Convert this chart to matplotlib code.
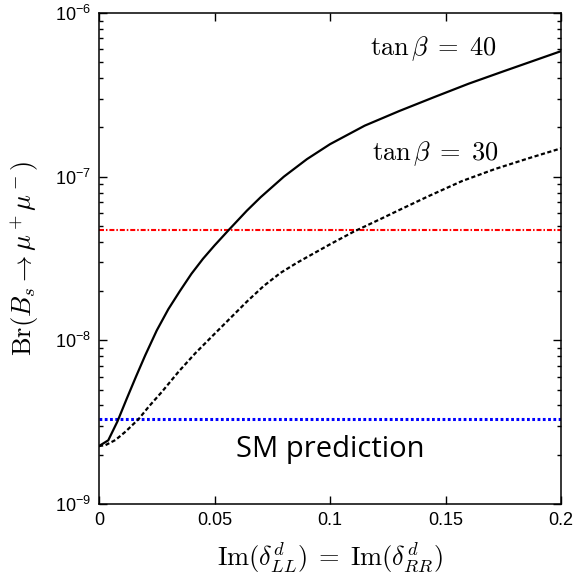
import matplotlib
matplotlib.use("Agg")
import matplotlib.pyplot as plt
from matplotlib.ticker import LogLocator, FixedLocator, NullFormatter

plt.rcParams['font.family'] = ['Liberation Sans', 'DejaVu Sans']
plt.rcParams['mathtext.fontset'] = 'cm'
plt.rcParams['lines.scale_dashes'] = False

# Data
x_tb40 = [0.0, 0.004, 0.008, 0.012, 0.016, 0.02, 0.025, 0.03, 0.035, 0.04, 0.045,
          0.05, 0.056, 0.064, 0.07, 0.08, 0.09, 0.1, 0.115, 0.13, 0.145, 0.16,
          0.175, 0.19, 0.2]
y_tb40 = [2.26e-9, 2.45e-9, 3.2e-9, 4.4e-9, 6.0e-9, 8.1e-9, 1.15e-8, 1.55e-8, 2.0e-8,
          2.55e-8, 3.15e-8, 3.8e-8, 4.7e-8, 6.2e-8, 7.5e-8, 1.0e-7, 1.28e-7, 1.58e-7,
          2.05e-7, 2.52e-7, 3.06e-7, 3.7e-7, 4.4e-7, 5.22e-7, 5.85e-7]

x_tb30 = [0.0, 0.0028, 0.0071, 0.0115, 0.0172, 0.0215, 0.0273, 0.0345, 0.0417,
          0.049, 0.0569, 0.0641, 0.0713, 0.0785, 0.0857, 0.1001, 0.1102, 0.1217,
          0.1304, 0.1426, 0.1571, 0.1715, 0.1859, 0.2]
y_tb30 = [2.26e-9, 2.29e-9, 2.46e-9, 2.77e-9, 3.31e-9, 3.93e-9, 4.86e-9, 6.45e-9, 8.35e-9,
          1.06e-8, 1.37e-8, 1.73e-8, 2.15e-8, 2.58e-8, 2.98e-8, 3.87e-8, 4.61e-8, 5.5e-8,
          6.3e-8, 7.6e-8, 9.4e-8, 1.115e-7, 1.295e-7, 1.49e-7]

exp_limit = 4.7e-8
sm_prediction = 3.3e-9

x_ticks = [0, 0.05, 0.1, 0.15, 0.2]
x_ticklabels = ['0', '0.05', '0.1', '0.15', '0.2']
y_ticks = [1e-9, 1e-8, 1e-7, 1e-6]
y_ticklabels = [r'$\mathregular{10^{-9}}$', r'$\mathregular{10^{-8}}$',
                r'$\mathregular{10^{-7}}$', r'$\mathregular{10^{-6}}$']

fig = plt.figure(figsize=(5.79, 5.79), dpi=100)
ax = fig.add_axes([0.171, 0.1295, 0.798, 0.848])

ax.axhline(exp_limit, color='#ff0000', lw=1.5, dashes=(3.6, 1.4, 1.1, 1.4))
ax.axhline(sm_prediction, color='#0000ff', lw=2.2, dashes=(2.0, 1.8))
ax.plot(x_tb40, y_tb40, color='black', lw=1.6, solid_joinstyle='round')
ax.plot(x_tb30, y_tb30, color='black', lw=1.6, dashes=(3.0, 1.8))

ax.set_yscale('log')
ax.set_xlim(0, 0.2)
ax.set_ylim(1e-9, 1e-6)

ax.xaxis.set_major_locator(FixedLocator(x_ticks))
ax.set_xticklabels(x_ticklabels)
ax.yaxis.set_major_locator(FixedLocator(y_ticks))
ax.set_yticklabels(y_ticklabels)
ax.yaxis.set_minor_locator(LogLocator(base=10, subs=range(2, 10)))
ax.yaxis.set_minor_formatter(NullFormatter())

ax.tick_params(which='both', direction='in', top=True, right=True, width=1.0, colors='black')
ax.tick_params(which='major', length=5.5, labelsize=13, pad=6)
ax.tick_params(which='minor', length=3)
for s in ax.spines.values():
    s.set_linewidth(1.1)

ax.set_xlabel(r'$\mathrm{Im}(\delta^d_{LL})\;=\;\mathrm{Im}(\delta^d_{RR})$', fontsize=19, labelpad=8)
ax.set_ylabel(r'$\mathrm{Br}(B_s\to\mu^+\mu^-)$', fontsize=19, labelpad=10)

ax.text(0.1173, 5.54e-7, r'$\tan\beta\;=\;40$', fontsize=19, ha='left', va='baseline')
ax.text(0.1182, 1.264e-7, r'$\tan\beta\;=\;30$', fontsize=19, ha='left', va='baseline')
ax.text(0.0595, 1.94e-9, 'SM prediction', fontsize=21, family=['Open Sans', 'DejaVu Sans'],
        ha='left', va='baseline')

fig.savefig('out.png', dpi=100)
